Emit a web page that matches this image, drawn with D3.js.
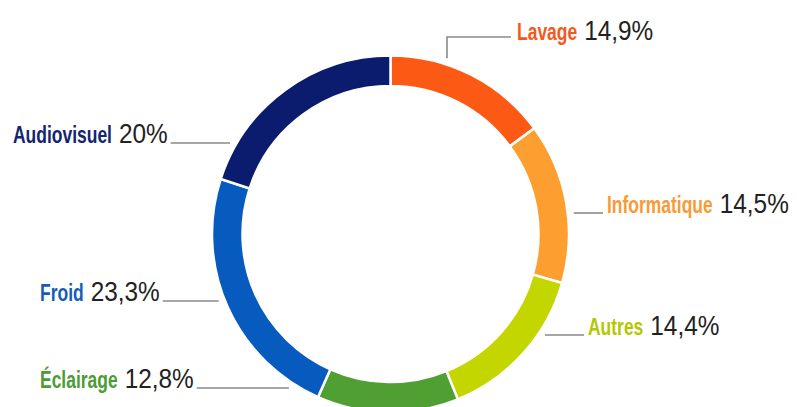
<!DOCTYPE html>
<html>
<head>
<meta charset="utf-8">
<script src="https://cdn.jsdelivr.net/npm/d3@7"></script>
<style>
  body { margin: 0; background: #fff; }
  svg { display: block; }
</style>
</head>
<body>
<script>
// data
const categories = ["Lavage", "Informatique", "Autres", "Éclairage", "Froid", "Audiovisuel"];
const values = [14.9, 14.5, 14.4, 12.8, 23.3, 20];
const sliceColors = ["#fc5a14", "#fd9e30", "#c4d600", "#4f9f32", "#075bbf", "#0b1c6e"];
const nameColors = ["#f4581c", "#f89a35", "#b2c800", "#4c9c34", "#155cb8", "#14246f"];

// label placement (layout only)
const labelLayout = [
  {side: "top",   x: 517, y: 40,  elbowX: 447, lineY: 37},
  {side: "right", x: 607, y: 213},
  {side: "right", x: 588, y: 335},
  {side: "left",  x: 40,  y: 388},
  {side: "left",  x: 40,  y: 301},
  {side: "left",  x: 13,  y: 143}
];

const width = 797, height = 407;
const cx = 390.5, cy = 234;
const outerR = 178.5, innerR = 148;
const leadR = outerR + 6;

// condensed look: squeeze a regular font horizontally
const font = "'Liberation Sans', Arial, sans-serif";
const nameSize = 23, numSize = 28;
const nameSx = 0.76, numSx = 0.87;
const gap = 7;

const fmt = v => String(v).replace(".", ",") + "%";

const svg = d3.select("body").append("svg")
    .attr("width", width)
    .attr("height", height);

const pie = d3.pie().sort(null).value(d => d);
const arc = d3.arc().innerRadius(innerR).outerRadius(outerR);
const arcs = pie(values);

const g = svg.append("g").attr("transform", "translate(" + cx + "," + cy + ")");

g.selectAll("path.slice")
  .data(arcs)
  .join("path")
    .attr("class", "slice")
    .attr("d", arc)
    .attr("fill", (d, i) => sliceColors[i])
    .attr("stroke", "#fff")
    .attr("stroke-width", 2.5);

// x on leader circle at a given y, on the left or right side
function edgeX(y, side) {
  const dy = y - cy;
  const dx = Math.sqrt(Math.max(0, leadR * leadR - dy * dy));
  return side === "left" ? cx - dx : cx + dx;
}

const lineColor = "#8a8a8a";

categories.forEach(function(name, i) {
  const L = labelLayout[i];

  const nameText = svg.append("text")
      .attr("transform", "translate(" + L.x + "," + L.y + ") scale(" + nameSx + ",1)")
      .style("font-family", font)
      .attr("font-weight", "bold")
      .attr("font-size", nameSize + "px")
      .attr("fill", nameColors[i])
      .text(name);
  const nameW = nameText.node().getComputedTextLength() * nameSx;

  const numX = L.x + nameW + gap;
  const numText = svg.append("text")
      .attr("transform", "translate(" + numX + "," + L.y + ") scale(" + numSx + ",1)")
      .style("font-family", font)
      .attr("font-size", numSize + "px")
      .attr("fill", "#222")
      .text(fmt(values[i]));
  const numW = numText.node().getComputedTextLength() * numSx;

  let pts;
  if (L.side === "top") {
    const dx = L.elbowX - cx;
    const yArc = cy - Math.sqrt(leadR * leadR - dx * dx);
    pts = [[L.elbowX, yArc], [L.elbowX, L.lineY], [L.x - 6, L.lineY]];
  } else if (L.side === "right") {
    pts = [[edgeX(L.y, "right"), L.y], [L.x - 4, L.y]];
  } else {
    pts = [[numX + numW + 3, L.y], [edgeX(L.y, "left"), L.y]];
  }
  svg.append("path")
      .attr("d", d3.line()(pts))
      .attr("fill", "none")
      .attr("stroke", lineColor)
      .attr("stroke-width", 1.6);
});
</script>
</body>
</html>
